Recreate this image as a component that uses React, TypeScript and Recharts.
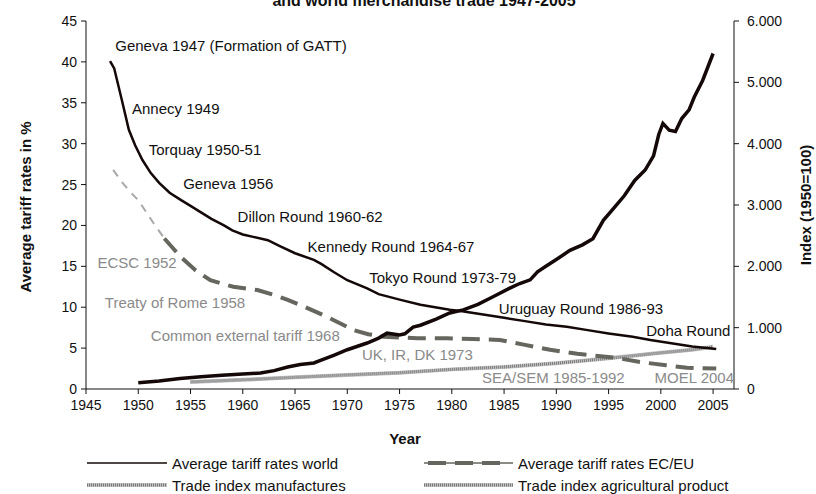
import { LineChart, Line, XAxis, YAxis, ReferenceDot } from 'recharts';

// average tariff rates world (%)
const worldYears = [1947.3, 1947.7, 1948.4, 1949.1, 1949.7, 1950.4, 1951.2, 1952, 1953, 1954.1, 1955, 1956, 1957, 1958.2, 1959, 1960, 1961, 1962.4, 1963.5, 1965, 1966.8, 1967.5, 1968.7, 1970, 1971.9, 1973, 1975.1, 1977, 1979.8, 1981, 1983, 1985, 1987, 1989, 1991, 1993, 1995, 1997.3, 1999, 2001, 2003, 2005.3];
const worldTariff = [40.1, 39.2, 35.5, 31.7, 29.8, 28.0, 26.4, 25.2, 24.0, 23.1, 22.4, 21.6, 20.8, 20.0, 19.4, 18.9, 18.6, 18.2, 17.5, 16.6, 15.8, 15.3, 14.3, 13.3, 12.3, 11.6, 10.9, 10.3, 9.7, 9.5, 9.1, 8.7, 8.3, 7.9, 7.6, 7.2, 6.8, 6.4, 6.0, 5.6, 5.2, 4.9];

// EC/EU tariff before ECSC (light) and after (dark)
const euEarlyYears = [1947.6, 1948.5, 1949.3, 1950, 1951.5, 1952.5];
const euEarlyTariff = [26.8, 25.2, 24.0, 23.1, 20.2, 18.4];
const euYears = [1952.5, 1954.1, 1955.5, 1956.9, 1959.1, 1961.4, 1963, 1964.3, 1966, 1968.1, 1970.6, 1972, 1973.5, 1976.7, 1979.5, 1982, 1984.6, 1987, 1989.4, 1992, 1995.8, 1998, 2000.5, 2002.5, 2005.3];
const euTariff = [18.4, 16.1, 14.5, 13.3, 12.5, 12.1, 11.5, 10.9, 10.0, 8.8, 7.2, 6.7, 6.4, 6.2, 6.2, 6.1, 6.0, 5.4, 4.8, 4.3, 3.8, 3.3, 2.9, 2.6, 2.5];

// trade index (1950=100)
const manufYears = [1950, 1952, 1954, 1956, 1958, 1960, 1961.7, 1963, 1964.3, 1965.5, 1966.8, 1967.5, 1968.7, 1970, 1971.9, 1973, 1973.8, 1975, 1975.5, 1976.3, 1977, 1978.5, 1979.8, 1981.1, 1982.5, 1983.9, 1985.5, 1986.5, 1987.5, 1988.2, 1989, 1990, 1991.3, 1992.5, 1993.5, 1994.5, 1995.5, 1996.5, 1997.5, 1998.5, 1999.3, 1999.8, 2000.2, 2000.8, 2001.4, 2002, 2002.7, 2003.2, 2004, 2004.5, 2005];
const manufIndex = [100, 130, 170, 200, 225, 245, 260, 300, 358, 400, 424, 470, 550, 640, 750, 830, 910, 880, 900, 1010, 1040, 1140, 1240, 1290, 1380, 1500, 1640, 1720, 1780, 1910, 2000, 2110, 2260, 2350, 2450, 2750, 2950, 3150, 3400, 3570, 3800, 4150, 4330, 4220, 4200, 4410, 4550, 4760, 5030, 5250, 5470];
const agriYears = [1955, 1960, 1965, 1970, 1975, 1980, 1985, 1990, 1995, 2000, 2003, 2005];
const agriIndex = [115, 150, 190, 230, 265, 320, 360, 420, 500, 590, 640, 690];

const xTicks = [1945, 1950, 1955, 1960, 1965, 1970, 1975, 1980, 1985, 1990, 1995, 2000, 2005];
const leftTicks = [0, 5, 10, 15, 20, 25, 30, 35, 40, 45];
const rightTicks = [0, 1000, 2000, 3000, 4000, 5000, 6000];

// round annotations: text, year, rate
const roundLabels = ['Geneva 1947 (Formation of GATT)', 'Annecy 1949', 'Torquay 1950-51', 'Geneva 1956', 'Dillon Round 1960-62', 'Kennedy Round 1964-67', 'Tokyo Round 1973-79', 'Uruguay Round 1986-93', 'Doha Round'];
const roundYears = [1947.8, 1949.4, 1951, 1954.3, 1959.5, 1966.2, 1972.1, 1984.5, 1998.6];
const roundRates = [42.05, 34.35, 29.3, 25.1, 21.15, 17.4, 13.6, 9.9, 7.2];
const euLabels = ['ECSC 1952', 'Treaty of Rome 1958', 'Common external tariff 1968', 'UK, IR, DK 1973', 'SEA/SEM 1985-1992', 'MOEL 2004'];
const euLabelYears = [1946.1, 1946.8, 1951.2, 1971.4, 1982.9, 1999.4];
const euLabelRates = [15.5, 10.6, 6.5, 4.2, 1.35, 1.35];

const zip = (xs: number[], ys: number[]) => xs.map((year, i) => ({ year, v: ys[i] }));

const worldData = zip(worldYears, worldTariff);
const euEarlyData = zip(euEarlyYears, euEarlyTariff);
const euData = zip(euYears, euTariff);
const manufData = zip(manufYears, manufIndex);
const agriData = zip(agriYears, agriIndex);

const FONT = '"Liberation Sans", Arial, sans-serif';
const tickStyle = { fontSize: 14, fill: '#111', fontFamily: FONT };

const fmtIndex = (v: number) => (v === 0 ? '0' : (v / 1000).toFixed(3));

const label = (text: string, year: number, rate: number, color: string, key: string) => (
  <ReferenceDot
    key={key}
    x={year}
    y={rate}
    yAxisId="left"
    ifOverflow="visible"
    shape={(p: any) => (
      <text x={p.cx} y={p.cy} dominantBaseline="central" fontSize={15} fontFamily={FONT} fill={color}>
        {text}
      </text>
    )}
  />
);

export default function App() {
  return (
    <div style={{ position: 'relative', width: 816, height: 494, fontFamily: FONT, background: '#fff' }}>
      <style>{'body{margin:0}'}</style>
      <LineChart width={816} height={494} margin={{ top: 21, right: 22, left: 36, bottom: 75 }}>
        <XAxis
          dataKey="year"
          type="number"
          domain={[1945, 2007]}
          ticks={xTicks}
          allowDataOverflow
          tick={tickStyle}
          tickSize={5}
          tickMargin={6}
          stroke="#111"
          height={30}
        />
        <YAxis
          yAxisId="left"
          domain={[0, 45]}
          ticks={leftTicks}
          tick={tickStyle}
          tickSize={5}
          tickMargin={4}
          stroke="#111"
          width={50}
        />
        <YAxis
          yAxisId="right"
          orientation="right"
          domain={[0, 6000]}
          ticks={rightTicks}
          tickFormatter={fmtIndex}
          tick={tickStyle}
          tickSize={5}
          tickMargin={8}
          stroke="#111"
          width={60}
        />
        <Line yAxisId="right" data={agriData} dataKey="v" stroke="#c4c4c4" strokeWidth={4} dot={false} isAnimationActive={false} />
        <Line yAxisId="right" data={agriData} dataKey="v" stroke="#7a7a7a" strokeWidth={3} strokeDasharray="1 1" dot={false} isAnimationActive={false} />
        <Line yAxisId="left" data={euEarlyData} dataKey="v" stroke="#a8a8a8" strokeWidth={2} strokeDasharray="8 7" dot={false} isAnimationActive={false} />
        <Line yAxisId="left" data={euData} dataKey="v" stroke="#66665f" strokeWidth={4} strokeDasharray="18 9" dot={false} isAnimationActive={false} />
        <Line yAxisId="right" data={manufData} dataKey="v" stroke="#140808" strokeWidth={3.5} dot={false} isAnimationActive={false} />
        <Line yAxisId="left" data={worldData} dataKey="v" stroke="#140808" strokeWidth={2.5} dot={false} isAnimationActive={false} />
        {roundLabels.map((t, i) => label(t, roundYears[i], roundRates[i], '#111', 'r' + i))}
        {euLabels.map((t, i) => label(t, euLabelYears[i], euLabelRates[i], '#8a8a8a', 'e' + i))}
      </LineChart>

      <svg width={816} height={494} style={{ position: 'absolute', left: 0, top: 0, pointerEvents: 'none' }}>
        <text x={424} y={6} textAnchor="middle" fontSize={16} fontWeight="bold" fontFamily={FONT} fill="#111">
          and world merchandise trade 1947-2005
        </text>
        <text transform="translate(25,207) rotate(-90)" textAnchor="middle" dominantBaseline="central" fontSize={15} fontWeight="bold" fontFamily={FONT} fill="#111">
          Average tariff rates in %
        </text>
        <text transform="translate(805,205) rotate(-90)" textAnchor="middle" dominantBaseline="central" fontSize={15} fontWeight="bold" fontFamily={FONT} fill="#111">
          Index (1950=100)
        </text>
        <text x={405} y={438} textAnchor="middle" dominantBaseline="central" fontSize={15} fontWeight="bold" fontFamily={FONT} fill="#111">
          Year
        </text>

        {/* legend */}
        <line x1={87} x2={167} y1={463} y2={463} stroke="#140808" strokeWidth={1.5} />
        <text x={172} y={463} dominantBaseline="central" fontSize={15} fontFamily={FONT} fill="#111">Average tariff rates world</text>
        <line x1={424} x2={513} y1={463} y2={463} stroke="#66665f" strokeWidth={1.5} />
        <line x1={428} x2={509} y1={463} y2={463} stroke="#66665f" strokeWidth={4} strokeDasharray="18 9" />
        <text x={518} y={463} dominantBaseline="central" fontSize={15} fontFamily={FONT} fill="#111">Average tariff rates EC/EU</text>

        <line x1={87} x2={167} y1={485} y2={485} stroke="#c4c4c4" strokeWidth={4} />
        <line x1={87} x2={167} y1={485} y2={485} stroke="#7a7a7a" strokeWidth={3} strokeDasharray="1 1" />
        <text x={172} y={485} dominantBaseline="central" fontSize={15} fontFamily={FONT} fill="#111">Trade index manufactures</text>
        <line x1={424} x2={513} y1={485} y2={485} stroke="#c4c4c4" strokeWidth={4} />
        <line x1={424} x2={513} y1={485} y2={485} stroke="#7a7a7a" strokeWidth={3} strokeDasharray="1 1" />
        <text x={518} y={485} dominantBaseline="central" fontSize={15} fontFamily={FONT} fill="#111">Trade index agricultural product</text>
      </svg>
    </div>
  );
}
